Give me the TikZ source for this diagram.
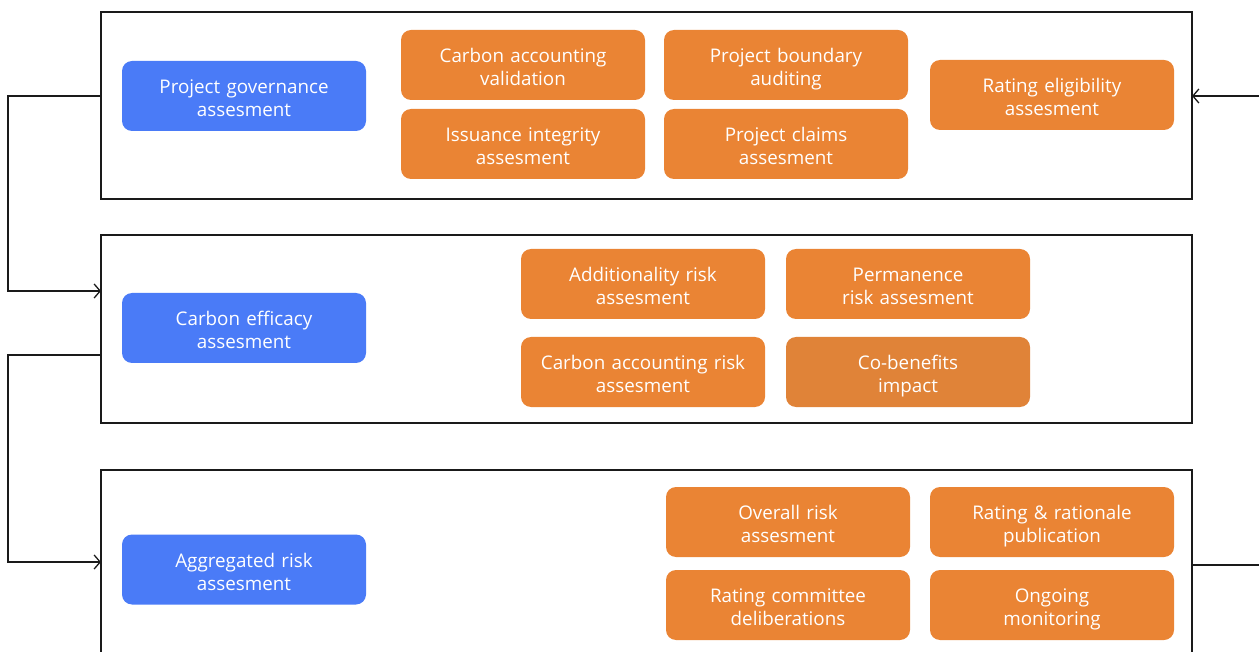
\documentclass[tikz,border=0pt]{standalone}
\usepackage{fontspec}
\setmainfont{Open Sans}
\usetikzlibrary{arrows.meta}
\definecolor{bluebox}{HTML}{4A7BF7}
\definecolor{orangebox}{HTML}{EA8434}
\definecolor{orangedim}{HTML}{E08338}
\definecolor{frameline}{HTML}{1A1A1A}
\tikzset{
  boxbase/.style={rounded corners=10pt, minimum width=244pt, minimum height=70pt,
    text width=240pt, align=center, text=white, inner sep=0pt,
    text height=12pt, text depth=17pt,
    font=\fontsize{18.8}{23}\selectfont},
  bluestep/.style={boxbase, fill=bluebox},
  orangestep/.style={boxbase, fill=orangebox},
  framebox/.style={draw=frameline, line width=1.3pt},
  conn/.style={draw=frameline, line width=1.2pt},
  connarrow/.style={conn, -{Straight Barb[length=6pt,width=14pt,line width=1.3pt]}}
}
\begin{document}
\begin{tikzpicture}[x=1pt,y=-1pt]
\useasboundingbox (0,0) rectangle (1259,652);
% frames
\draw[framebox] (101,12) rectangle (1192,199);
\draw[framebox] (101,235) rectangle (1192,423);
\draw[framebox] (101,660) -- (101,470) -- (1192,470) -- (1192,660);
\coordinate (f1l) at (101,96);
\coordinate (f1r) at (1192,96);
\coordinate (f2in) at (101,291);
\coordinate (f2out) at (101,355);
\coordinate (f3in) at (101,562);
\coordinate (f3r) at (1192,565);
\coordinate (rin) at (1259,96);
\coordinate (rout) at (1259,565);
\coordinate (c1) at (8,96);
\coordinate (c2) at (8,355);
% frame 1
\node[bluestep] (gov) at (244,96) {Project governance\\assesment};
\node[orangestep] (cav) at (523,65) {Carbon accounting\\validation};
\node[orangestep] (iia) at (523,144) {Issuance integrity\\assesment};
\node[orangestep] (pba) at (786,65) {Project boundary\\auditing};
\node[orangestep] (pca) at (786,144) {Project claims\\assesment};
\node[orangestep] (rea) at (1052,95) {Rating eligibility\\assesment};
% frame 2
\node[bluestep] (eff) at (244,328) {Carbon efficacy\\assesment};
\node[orangestep] (add) at (643,284) {Additionality risk\\assesment};
\node[orangestep] (per) at (908,284) {Permanence\\risk assesment};
\node[orangestep] (car) at (643,372) {Carbon accounting risk\\assesment};
\node[boxbase, fill=orangedim] (cob) at (908,372) {Co-benefits\\impact};
% frame 3
\node[bluestep] (agg) at (244,569.5) {Aggregated risk\\assesment};
\node[orangestep] (ora) at (788,522) {Overall risk\\assesment};
\node[orangestep] (rrp) at (1052,522) {Rating \& rationale\\publication};
\node[orangestep] (rcd) at (788,605) {Rating committee\\deliberations};
\node[orangestep] (ogm) at (1052,605) {Ongoing\\monitoring};
% connectors
\draw[connarrow] (f1l) -- (c1) |- (f2in);
\draw[connarrow] (f2out) -- (c2) |- (f3in);
\draw[connarrow] (rin) -- (f1r);
\draw[conn] (f3r) -- (rout);
\end{tikzpicture}
\end{document}
